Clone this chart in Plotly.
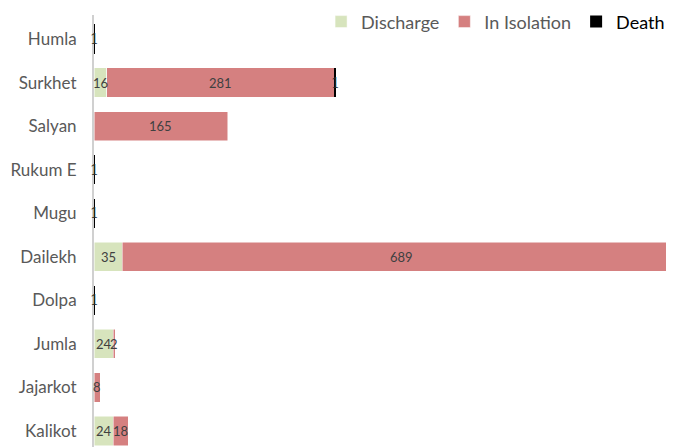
import plotly.graph_objects as go

districts = ["Humla", "Surkhet", "Salyan", "Rukum E", "Mugu", "Dailekh", "Dolpa", "Jumla", "Jajarkot", "Kalikot"]
discharge = [0, 16, 0, 0, 0, 35, 0, 24, 0, 24]
isolation = [0, 281, 165, 0, 0, 689, 0, 2, 8, 18]
death = [1, 1, 0, 1, 1, 0, 1, 0, 0, 0]

fig = go.Figure()
fig.add_trace(go.Bar(y=districts, x=discharge, name="Discharge", orientation="h",
                     marker=dict(color="#D7E4BD", line=dict(color="white", width=0.5))))
fig.add_trace(go.Bar(y=districts, x=isolation, name="In Isolation", orientation="h",
                     marker=dict(color="#D58080", line=dict(color="white", width=0.5))))
fig.add_trace(go.Bar(y=districts, x=death, name='<span style="color:#000000">Death</span>',
                     orientation="h", cliponaxis=False,
                     marker=dict(color="#000000", line=dict(width=0))))

# value labels centred on each stacked segment
lblfont = dict(family="Lato", size=13, color="#404040")
deathfont = dict(family="DejaVu Serif", size=14, color="#262626")
for d, a, b, c in zip(districts, discharge, isolation, death):
    start = 0
    for v, f in ((a, lblfont), (b, lblfont), (c, deathfont)):
        if v:
            fig.add_annotation(x=start + v / 2, y=d, text=str(v), showarrow=False,
                               xanchor="center", yanchor="middle", font=f)
        start += v

fig.update_layout(
    width=658, height=439,
    margin=dict(l=86, r=0, t=7, b=0, autoexpand=False),
    barmode="stack", bargap=0.33,
    plot_bgcolor="white", paper_bgcolor="white",
    font=dict(family="Lato", color="#595959"),
    legend=dict(orientation="h", x=0.397, xanchor="left", y=0.984, yanchor="middle",
                font=dict(size=18, color="#595959"), bgcolor="rgba(0,0,0,0)",
                traceorder="normal"),
    xaxis=dict(range=[0, 706], showgrid=False, zeroline=False, showticklabels=False,
               showline=False, automargin=False),
    yaxis=dict(categoryorder="array", categoryarray=districts, range=[9.367, -0.551],
               showgrid=False, zeroline=False, showline=True, linecolor="#D0D0D0", linewidth=2,
               ticks="", ticklabelstandoff=12, automargin=False,
               tickfont=dict(size=17, color="#595959")),
)
fig.write_html("out.html")
